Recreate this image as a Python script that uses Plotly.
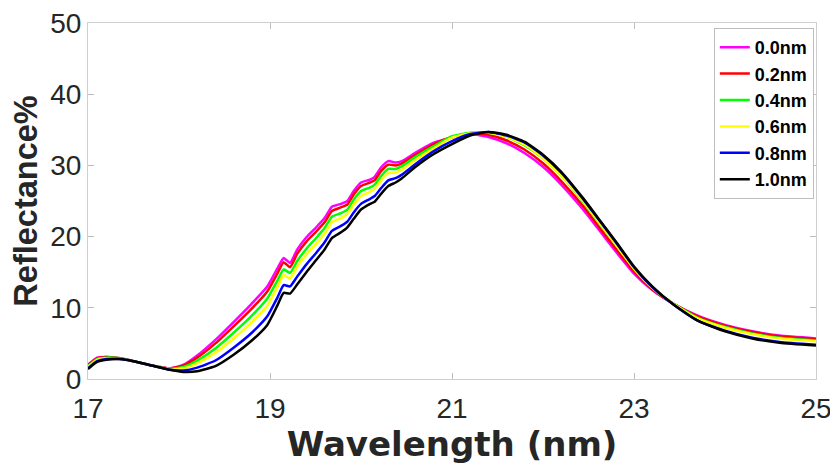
import plotly.graph_objects as go

wavelength = [17.0, 17.1, 17.2, 17.35, 17.5, 17.7, 17.9, 18.05, 18.2, 18.4, 18.6, 18.8, 18.97,
              19.08, 19.15, 19.22, 19.3, 19.4, 19.5, 19.6, 19.68, 19.78, 19.85, 19.92, 20.0,
              20.1, 20.15, 20.22, 20.3, 20.38, 20.45, 20.6, 20.8, 21.0, 21.2, 21.4, 21.6,
              21.8, 22.0, 22.2, 22.44, 22.6, 22.8, 23.0, 23.2, 23.43, 23.7, 24.0, 24.3, 24.6, 25.0]

r_00 = [2.0, 3.0, 3.1, 2.9, 2.5, 1.9, 1.5, 2.0, 3.3, 5.5, 8.0, 10.6, 13.0,
        15.5, 17.0, 16.3, 18.2, 19.9, 21.2, 22.6, 24.2, 24.6, 25.0, 26.4, 27.6,
        28.0, 28.4, 29.7, 30.6, 30.4, 30.6, 31.8, 33.2, 33.9, 34.4, 34.0, 33.1,
        31.7, 29.8, 27.3, 23.8, 21.2, 17.9, 14.8, 12.5, 10.6, 8.9, 7.6, 6.7, 6.1, 5.7]

r_02 = [1.9, 2.9, 3.1, 2.9, 2.5, 1.9, 1.5, 1.9, 3.0, 5.0, 7.4, 9.9, 12.3,
        14.8, 16.4, 15.7, 17.6, 19.3, 20.6, 22.0, 23.6, 24.1, 24.5, 25.9, 27.1,
        27.6, 27.9, 29.2, 30.1, 30.0, 30.3, 31.5, 33.0, 34.0, 34.5, 34.3, 33.5,
        32.2, 30.3, 27.8, 24.3, 21.6, 18.3, 15.1, 12.6, 10.6, 8.8, 7.5, 6.6, 6.0, 5.6]

r_04 = [1.8, 2.8, 3.0, 2.9, 2.5, 1.9, 1.4, 1.7, 2.6, 4.3, 6.5, 8.9, 11.3,
        13.8, 15.4, 14.9, 16.6, 18.3, 19.7, 21.2, 22.8, 23.3, 23.8, 25.2, 26.4,
        26.9, 27.3, 28.5, 29.5, 29.5, 29.9, 31.2, 32.7, 34.1, 34.6, 34.6, 34.0,
        32.8, 31.0, 28.6, 24.9, 22.2, 18.9, 15.5, 12.8, 10.6, 8.6, 7.3, 6.4, 5.8, 5.4]

r_06 = [1.7, 2.7, 2.9, 2.8, 2.5, 1.9, 1.4, 1.5, 2.2, 3.7, 5.7, 8.0, 10.3,
        12.9, 14.6, 14.1, 15.8, 17.5, 18.9, 20.4, 22.0, 22.6, 23.2, 24.5, 25.7,
        26.3, 26.7, 27.9, 28.9, 29.0, 29.4, 30.8, 32.4, 33.9, 34.5, 34.6, 34.0,
        32.9, 31.0, 28.6, 25.0, 22.3, 18.9, 15.5, 12.8, 10.6, 8.5, 7.2, 6.3, 5.7, 5.3]

r_08 = [1.5, 2.5, 2.8, 2.8, 2.5, 1.9, 1.3, 1.2, 1.6, 2.6, 4.4, 6.5, 8.8,
        11.4, 13.2, 13.0, 14.4, 16.1, 17.6, 19.2, 20.8, 21.5, 22.1, 23.4, 24.6,
        25.3, 25.7, 26.8, 27.9, 28.2, 28.7, 30.2, 32.0, 33.4, 34.4, 34.7, 34.2,
        33.2, 31.4, 29.0, 25.3, 22.6, 19.2, 15.7, 12.9, 10.5, 8.2, 6.8, 5.8, 5.2, 4.8]

r_10 = [1.4, 2.4, 2.7, 2.8, 2.5, 1.9, 1.3, 1.0, 1.1, 1.8, 3.4, 5.4, 7.6,
        10.3, 12.1, 12.0, 13.3, 15.0, 16.6, 18.2, 19.8, 20.6, 21.3, 22.5, 23.8,
        24.6, 24.9, 26.0, 27.1, 27.6, 28.2, 29.8, 31.6, 33.0, 34.2, 34.7, 34.3,
        33.3, 31.5, 29.1, 25.4, 22.7, 19.3, 15.8, 13.0, 10.5, 8.2, 6.7, 5.7, 5.1, 4.7]

series_names = ["0.0nm", "0.2nm", "0.4nm", "0.6nm", "0.8nm", "1.0nm"]
series_values = [r_00, r_02, r_04, r_06, r_08, r_10]
series_colors = ["#FF00FF", "#FF0000", "#00FF00", "#FFFF00", "#0000FF", "#000000"]

x_ticks = [17, 19, 21, 23, 25]
y_ticks = [0, 10, 20, 30, 40, 50]

FONT = "Arial, 'Liberation Sans', Helvetica, sans-serif"
WIDE_BOLD = "'DejaVu Sans', Arial, sans-serif"

fig = go.Figure()
for name, vals, col in zip(series_names, series_values, series_colors):
    fig.add_trace(go.Scatter(
        x=wavelength, y=vals, mode="lines", name="<b>" + name + "</b>",
        line=dict(color=col, width=2.5, shape="spline", smoothing=0.5),
    ))

axis_common = dict(
    showline=True, linecolor="#cfcfcf", linewidth=1, mirror="ticks",
    ticks="inside", ticklen=6, tickcolor="#bdbdbd", tickwidth=1,
    showgrid=False, zeroline=False, ticklabeloverflow="allow", automargin=False,
    tickfont=dict(family=FONT, size=28, color="#262626"),
)

fig.update_layout(
    width=830, height=458,
    margin=dict(l=80, r=22, t=15, b=87),
    paper_bgcolor="white", plot_bgcolor="white",
    font=dict(family=FONT),
    xaxis=dict(range=[17, 25], tickvals=x_ticks, ticktext=[str(v) for v in x_ticks],
               ticklabelstandoff=4,
               title=dict(text="<b>Wavelength (nm)</b>", font=dict(family=WIDE_BOLD, size=34, color="#262626"),
                          standoff=9),
               **axis_common),
    yaxis=dict(range=[0, 50], tickvals=y_ticks, ticktext=[str(v) for v in y_ticks],
               title=dict(text="<b>Reflectance%</b>", font=dict(family=FONT, size=32.5, color="#262626"),
                          standoff=4),
               **axis_common),
    legend=dict(x=0.997, y=0.986, xanchor="right", yanchor="top",
                bgcolor="white", bordercolor="#bdbdbd", borderwidth=1,
                font=dict(family=FONT, size=18, color="#000000"),
                itemwidth=30, tracegroupgap=0),
    showlegend=True,
)

fig.write_html("out.html")
